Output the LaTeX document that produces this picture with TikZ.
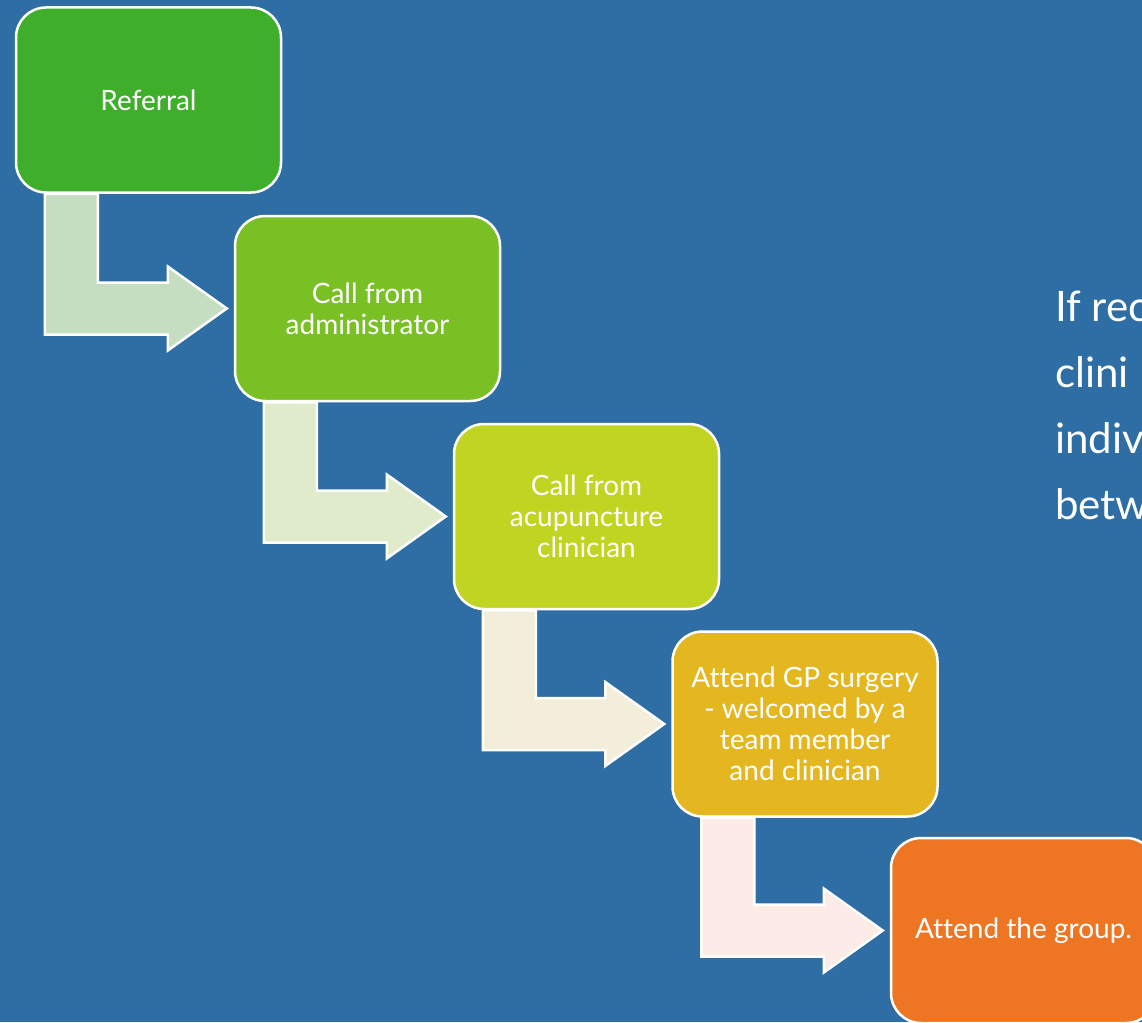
\documentclass[tikz,border=0pt]{standalone}
\usepackage{fontspec}
\setmainfont{Lato}[Ligatures=NoCommon]
\usetikzlibrary{calc, backgrounds}

\definecolor{bgblue}{HTML}{2E6EA5}
\definecolor{step1}{HTML}{3FAE2A}
\definecolor{step2}{HTML}{78C024}
\definecolor{step3}{HTML}{C0D422}
\definecolor{step4}{HTML}{E4B720}
\definecolor{step5}{HTML}{EE7623}
\definecolor{bend1}{HTML}{C5DDC1}
\definecolor{bend2}{HTML}{DFEBCA}
\definecolor{bend3}{HTML}{F3EEDA}
\definecolor{bend4}{HTML}{FCEBE6}

\begin{document}
\begin{tikzpicture}[x=1pt, y=-1pt,
    stepbox/.style={draw=white, line width=2.5pt, rounded corners=30pt, text=white,
      minimum width=265pt, minimum height=185pt, inner sep=0pt, align=center,
      font=\fontsize{28}{31}\selectfont},
    bentarrow/.style={draw=white, line width=2.5pt, line join=miter}]
    \useasboundingbox (0,0) rectangle (1142,1022);

    \node[stepbox, fill=step1] (ref) at (148.5, 100) {Referral};
    \node[stepbox, fill=step2] (admin) at (367.5, 308.5) {Call from\\administrator};
    \node[stepbox, fill=step3] (acu) at (586.5, 516.5) {Call from\\acupuncture\\clinician};
    \node[stepbox, fill=step4] (gp) at (805, 724) {Attend GP surgery\\- welcomed by a\\team member\\and clinician};
    \node[stepbox, fill=step5] (group) at (1023.5, 930.5) {Attend the group.};

    % bent arrows, under the boxes
    \begin{scope}[on background layer]
    \fill[bgblue] (0,0) rectangle (1142,1022);
    \draw[bentarrow, fill=bend1] ($(ref.south west)+(30,0)$) |- ($(admin.west)+(-66,26)$) -- ++(0,16)
      -- ($(admin.west)+(-7,0)$) -- ++(-59,-42) -- ++(0,16) -| ($(ref.south west)+(83,0)$) -- cycle;
    \draw[bentarrow, fill=bend2] ($(admin.south west)+(30,0)$) |- ($(acu.west)+(-66,26)$) -- ++(0,16)
      -- ($(acu.west)+(-7,0)$) -- ++(-59,-42) -- ++(0,16) -| ($(admin.south west)+(83,0)$) -- cycle;
    \draw[bentarrow, fill=bend3] ($(acu.south west)+(30,0)$) |- ($(gp.west)+(-66,26)$) -- ++(0,16)
      -- ($(gp.west)+(-7,0)$) -- ++(-59,-42) -- ++(0,16) -| ($(acu.south west)+(83,0)$) -- cycle;
    \draw[bentarrow, fill=bend4] ($(gp.south west)+(30,0)$) |- ($(group.west)+(-66,26)$) -- ++(0,16)
      -- ($(group.west)+(-7,0)$) -- ++(-59,-42) -- ++(0,16) -| ($(gp.south west)+(83,0)$) -- cycle;
    \end{scope}

    % side note, cut by the page edge
    \node[text=white, anchor=base west, align=left, inner sep=0pt,
      font=\fontsize{42}{66}\selectfont] (note) at (1055, 519) {If rec\\clini\\indiv\\betw};
\end{tikzpicture}
\end{document}
